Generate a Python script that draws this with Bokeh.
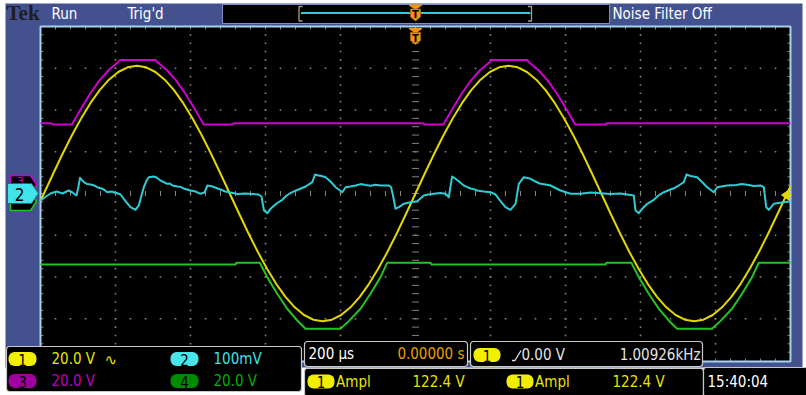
from bokeh.plotting import figure
from bokeh.models import Range1d
from bokeh.core.properties import value
from bokeh.embed import file_html
from bokeh.resources import INLINE

# Channel 1 (yellow) : time in microseconds, volts
ch1_t = [-1000.0, -990.8, -966.0, -941.3, -916.5, -891.7, -867.0, -842.2, -817.4, -792.6,
         -767.9, -743.1, -718.3, -693.6, -668.8, -644.0, -619.3, -594.5, -569.7, -544.9,
         -520.2, -495.4, -470.6, -445.9, -421.1, -396.3, -371.6, -346.8, -322.0, -297.2,
         -272.5, -247.7, -222.9, -198.2, -173.4, -148.6, -123.9, -99.1, -74.3, -49.5,
         -24.8, 0.0, 24.8, 49.5, 74.3, 99.1, 123.9, 148.6, 173.4, 198.2,
         222.9, 247.7, 272.5, 297.2, 322.0, 346.8, 371.6, 396.3, 421.1, 445.9,
         470.6, 495.4, 520.2, 544.9, 569.7, 594.5, 619.3, 644.0, 668.8, 693.6,
         718.3, 743.1, 767.9, 792.6, 817.4, 842.2, 867.0, 891.7, 916.5, 941.3,
         966.0, 990.8, 1000.0]
ch1_v = [-3.57, 0.0, 9.57, 18.91, 27.78, 35.97, 43.27, 49.51, 54.53, 58.21,
         60.45, 61.2, 60.45, 58.21, 54.53, 49.51, 43.27, 35.97, 27.78, 18.91,
         9.57, 0.0, -9.57, -18.91, -27.78, -35.97, -43.27, -49.51, -54.53, -58.21,
         -60.45, -61.2, -60.45, -58.21, -54.53, -49.51, -43.27, -35.97, -27.78, -18.91,
         -9.57, 0.0, 9.57, 18.91, 27.78, 35.97, 43.27, 49.51, 54.53, 58.21,
         60.45, 61.2, 60.45, 58.21, 54.53, 49.51, 43.27, 35.97, 27.78, 18.91,
         9.57, 0.0, -9.57, -18.91, -27.78, -35.97, -43.27, -49.51, -54.53, -58.21,
         -60.45, -61.2, -60.45, -58.21, -54.53, -49.51, -43.27, -35.97, -27.78, -18.91,
         -9.57, 0.0, 3.57]

# Channel 2 (cyan) : (microseconds, millivolts)
ch2_pts = [(-1000.0, -16.8), (-989.3, -9.6), (-973.3, 0.0), (-957.3, 4.8), (-941.3, 0.0),
           (-925.3, 7.2), (-914.7, 2.4), (-904.0, -4.8), (-898.7, 16.8), (-894.7, 37.6),
           (-884.5, 27.1), (-876.0, 22.8), (-866.7, 21.6), (-858.0, 19.6), (-848.8, 15.1),
           (-837.3, 12.0), (-830.0, 9.0), (-822.1, 3.1),
           (-810.7, 4.8), (-795.5, 0.7), (-786.7, -2.4), (-777.9, -12.7), (-768.0, -24.0),
           (-760.0, -32.8), (-746.7, -39.0), (-737.9, -28.7), (-730.7, -4.8), (-724.5, 15.1),
           (-717.3, 31.1), (-711.2, 39.0), (-697.9, 40.7), (-690.7, 38.3), (-680.0, 31.1),
           (-662.1, 23.2), (-655.0, 23.9), (-648.0, 19.2), (-635.5, 16.8), (-627.0, 16.0),
           (-618.7, 12.0), (-600.0, 7.2),
           (-586.7, 4.8), (-573.3, -0.7), (-562.7, 2.4), (-554.7, 19.2), (-541.3, 16.8),
           (-520.0, 9.6), (-507.0, 4.8), (-493.3, 2.4), (-475.0, -1.2), (-453.3, 0.0),
           (-418.7, -2.4), (-410.7, -7.2),
           (-404.0, -40.7), (-395.2, -47.2), (-386.4, -36.6), (-370.7, -24.0), (-355.2, -15.1),
           (-344.0, -4.8), (-328.5, 3.1), (-312.0, 9.6), (-293.1, 16.8), (-275.2, 27.1),
           (-268.0, 45.5), (-258.7, 43.1), (-250.7, 41.9), (-239.7, 39.0), (-226.7, 28.7),
           (-213.1, 15.1), (-195.2, 3.1), (-186.4, 15.1), (-173.3, 16.8), (-159.7, 19.2),
           (-146.0, 22.5), (-133.3, 20.4), (-120.0, 18.5), (-106.4, 20.8), (-93.3, 19.2),
           (-70.7, 19.2), (-65.3, 15.6),
           (-60.0, -4.8), (-53.3, -36.6), (-44.5, -32.8), (-31.2, -24.7), (-13.3, -20.8),
           (4.5, -18.4), (22.1, -4.8), (34.7, -2.4), (48.8, -0.7), (66.7, 1.2),
           (80.0, -0.7), (88.8, -8.9), (93.3, 16.8), (97.9, 40.7), (106.7, 35.2),
           (128.8, 19.2), (137.0, 16.0), (146.7, 12.0), (155.0, 10.5), (164.5, 7.2),
           (181.3, 4.8), (200.0, 3.1),
           (213.3, -2.4), (222.1, -12.7), (232.0, -24.0), (240.0, -32.8), (253.3, -39.0),
           (266.7, -24.7), (275.5, 23.2), (288.8, 39.0), (306.7, 35.2), (320.0, 28.7),
           (333.3, 23.2), (347.0, 21.5), (360.0, 19.2), (373.3, 13.2), (386.7, 7.2),
           (413.3, -0.7),
           (440.0, -0.7), (466.7, 2.4), (493.3, 0.7), (520.0, -1.2), (546.7, 0.0),
           (582.1, -4.8), (586.7, -40.7), (595.5, -47.2), (604.5, -36.6), (618.7, -24.0),
           (635.5, -15.1), (648.0, -4.8), (662.1, 3.1), (680.0, 9.6), (689.0, 12.5),
           (697.9, 16.8),
           (715.5, 27.1), (722.7, 45.5), (733.3, 41.9), (751.2, 39.0), (762.7, 28.7),
           (777.9, 15.1), (795.5, 3.1), (804.5, 15.1), (831.2, 19.2), (856.0, 20.4),
           (870.0, 22.8), (884.5, 20.8), (902.0, 18.2), (920.0, 19.2), (928.8, 15.1),
           (935.2, -32.8), (942.1, -39.0),
           (955.5, -24.7), (982.1, -20.8), (1000.0, -18.4)]

# Channel 3 (magenta) : (microseconds, volts)
ch3_pts = [(-1000.0, 29.84), (-973.3, 29.84), (-965.3, 29.22), (-916.5, 29.22), (-891.7, 36.93),
           (-867.0, 44.21), (-842.2, 50.49), (-817.4, 55.47), (-792.6, 59.16), (-788.0, 60.21),
           (-693.3, 60.21), (-688.7, 59.16), (-663.9, 55.47), (-639.1, 50.49), (-614.3, 44.21),
           (-589.6, 36.93), (-564.8, 29.22), (-488.0, 29.22), (-485.3, 29.84), (21.3, 29.84),
           (24.0, 29.22), (74.3, 29.22), (99.1, 36.93), (123.8, 44.21), (148.6, 50.49),
           (173.4, 55.47), (198.2, 59.16), (202.8, 60.21), (297.5, 60.21), (302.1, 59.16),
           (326.9, 55.47), (351.7, 50.49), (376.5, 44.21), (401.2, 36.93), (426.0, 29.22),
           (506.7, 29.22), (509.3, 29.84), (1000.0, 29.84)]

# Channel 4 (green) : (microseconds, volts)
ch4_pts = [(-1000.0, -30.18), (-479.9, -30.18), (-477.3, -29.36), (-415.2, -29.36), (-395.5, -36.26),
           (-368.8, -44.21), (-342.1, -51.40), (-315.5, -57.0), (-293.3, -60.98), (-200.0, -60.98),
           (-177.9, -57.34), (-146.7, -51.40), (-120.0, -44.21), (-93.3, -36.26), (-75.5, -29.36),
           (39.9, -29.36), (42.5, -30.18), (506.7, -30.18), (509.3, -29.36), (575.6, -29.36),
           (595.3, -36.26), (622.0, -44.21), (648.7, -51.40), (675.3, -57.0), (697.5, -60.98),
           (790.8, -60.98), (812.9, -57.34), (844.1, -51.40), (870.8, -44.21), (897.5, -36.26),
           (915.3, -29.36), (1000.0, -29.36)]

# readouts
ch_names = ["1", "2", "3", "4"]
ch_scale_text = ["20.0 V", "100mV", "20.0 V", "20.0 V"]
ch_scale = [20.0, 100.0, 20.0, 20.0]          # units per division (V, mV, V, V)
ch_ground_div = [0.0, 0.0, 0.19, -0.19]       # ground marker, divisions above centre
timebase_us = 200.0
timebase_text = "200 µs"
trig_pos_text = "0.00000 s"
trig_level_text = "0.00 V"
freq_text = "1.00926kHz"
meas_name = "Ampl"
meas_values = ["122.4 V", "122.4 V"]
clock_text = "15:40:04"
status_texts = ["Run", "Trig'd", "Noise Filter Off"]

# ---------------- layout / style ----------------
W, H = 806, 395
GX0, GX1, GY0, GY1 = 40.0, 790.0, 26.0, 360.0
NDX, NDY = 10, 8
DPX = (GX1 - GX0) / NDX
DPY = (GY1 - GY0) / NDY
CX = (GX0 + GX1) / 2
CY = (GY0 + GY1) / 2

BLUE = "#43518f"
GRID = "#85857a"
TR_COL = ["#e0d800", "#2ccdd4", "#d000d0", "#22c422"]
TX_COL = ["#e6e400", "#3ee0e6", "#bf00bf", "#00b000"]
PILL_COL = ["#f2ee00", "#48e6ea", "#a000a0", "#008c00"]
ORANGE = "#f0960a"
NARROW = "'Liberation Sans Narrow', 'DejaVu Sans Condensed', 'Liberation Sans', sans-serif"

p = figure(width=W, height=H, x_range=Range1d(0, W), y_range=Range1d(H, 0),
           output_backend="svg", toolbar_location=None, x_axis_type=None, y_axis_type=None,
           min_border=0, outline_line_color=None, title=None,
           background_fill_color="white", border_fill_color="white")

tx0 = (0 - CX) / DPX * timebase_us
tx1 = (W - CX) / DPX * timebase_us
p.extra_x_ranges = {"time": Range1d(tx0, tx1)}
yr = {}
for i in range(4):
    g = CY - ch_ground_div[i] * DPY
    s = ch_scale[i]
    yr["ch%d" % (i + 1)] = Range1d((g - H) / DPY * s, g / DPY * s)
p.extra_y_ranges = yr


def box(l, r, t, b, fill="black", line=None, lw=1.0, radius=0):
    kw = dict(left=[l], right=[r], top=[t], bottom=[b], fill_color=fill,
              line_color=line, line_width=lw)
    if radius:
        kw["border_radius"] = radius
    p.quad(**kw)


def txt(x, y, s, color, size=15, align="left", font=NARROW, style="normal"):
    p.text(x=[x], y=[y], text=[s], text_color=color, text_font=value(font),
           text_font_size="%gpx" % size, text_align=align, text_baseline="middle",
           text_font_style=style)


# frame
box(5, 802, 3, 367, fill=BLUE)
# graticule
box(GX0, GX1, GY0, GY1 + 1, fill="black")

dot_x, dot_y = [], []
for i in range(1, NDY):
    if i == NDY // 2:
        continue
    for j in range(1, NDX * 5):
        dot_x.append(GX0 + j * DPX / 5)
        dot_y.append(GY0 + i * DPY)
for j in range(1, NDX):
    if j == NDX // 2:
        continue
    for i in range(1, NDY * 5):
        dot_x.append(GX0 + j * DPX)
        dot_y.append(GY0 + i * DPY / 5)
p.rect(dot_x, dot_y, width=1.6, height=1.6, fill_color=GRID, line_color=None)

sx0, sy0, sx1, sy1 = [], [], [], []


def seg(a, b, c, d):
    sx0.append(a); sy0.append(b); sx1.append(c); sy1.append(d)


for j in range(1, NDX * 5):
    x = GX0 + j * DPX / 5
    seg(x, CY - 2.5, x, CY + 2.5)
    seg(x, GY0, x, GY0 + 3)
    seg(x, GY1 + 1, x, GY1 - 2)
for i in range(1, NDY * 5):
    y = GY0 + i * DPY / 5
    seg(CX - 3.5, y, CX + 3.5, y)
    seg(GX0, y, GX0 + 3, y)
    seg(GX1, y, GX1 - 3, y)
p.segment(sx0, sy0, sx1, sy1, line_color=GRID, line_width=1)

box(GX0, GX1, GY0, GY1 + 1, fill=None, line="#a4d2ec", lw=2)

# traces
p.line([t for t, _ in ch3_pts], [v for _, v in ch3_pts], x_range_name="time", y_range_name="ch3",
       line_color=TR_COL[2], line_width=2, line_join="round")
p.line([t for t, _ in ch4_pts], [v for _, v in ch4_pts], x_range_name="time", y_range_name="ch4",
       line_color=TR_COL[3], line_width=2, line_join="round")
p.line(ch1_t, ch1_v, x_range_name="time", y_range_name="ch1",
       line_color=TR_COL[0], line_width=2, line_join="round")
p.line([t for t, _ in ch2_pts], [v for _, v in ch2_pts], x_range_name="time", y_range_name="ch2",
       line_color=TR_COL[1], line_width=2, line_join="round")

# ---- top status bar ----
txt(6, 12, "Tek", "#1e1e1e", size=21, font="'Liberation Serif', serif", style="bold")
txt(51, 13.5, status_texts[0], "white", size=15)
txt(127, 13.5, status_texts[1], "white", size=15)
box(222, 609, 4, 23, fill="black", line="#7f8fc4", lw=1)
p.line([300.5, 530], [12.5, 12.5], line_color="#2ccdd4", line_width=2)
p.line([302, 298.5, 298.5, 302], [6, 6, 20.5, 20.5], line_color="#a89a8a", line_width=1.3)
p.line([527.5, 531, 531, 527.5], [6, 6, 20.5, 20.5], line_color="#a89a8a", line_width=1.3)
txt(612, 13.5, status_texts[2], "white", size=15)


def trig_marker(y0):
    p.patch([408.5, 421.5, 415], [y0, y0, y0 + 4.5], fill_color=ORANGE, line_color=ORANGE)
    p.patch([410, 420, 420, 415, 410], [y0 + 4, y0 + 4, y0 + 12, y0 + 16, y0 + 12],
            fill_color=ORANGE, line_color="#b06000", line_width=0.8)
    txt(415, y0 + 9.5, "T", "black", size=10, align="center",
        font="'DejaVu Sans', sans-serif", style="bold")


trig_marker(4.5)
trig_marker(28)

# ---- channel ground markers (left) ----
for k, (dy, col) in enumerate([(-9, TR_COL[2]), (8, TR_COL[3])]):
    yc = CY + dy
    p.patch([10, 30, 36, 30, 10], [yc - 9, yc - 9, yc, yc + 9, yc + 9],
            fill_color="black", line_color=col, line_width=1.5)
txt(20, CY - 12, ch_names[2], TR_COL[2], size=12, align="center")
p.patch([7, 31, 38, 31, 7], [CY - 10, CY - 10, CY, CY + 10, CY + 10],
        fill_color="#40e4ea", line_color="#1a6c70", line_width=1)
txt(19, CY + 0.5, ch_names[1], "black", size=17, align="center")

# trigger level marker (right)
p.patch([781, 789, 789], [CY + 1.5, CY - 4, CY + 7], fill_color=TR_COL[0], line_color=TR_COL[0])
p.line([788, 791], [CY + 1.5, CY + 1.5], line_color=TR_COL[0], line_width=2)

# ---- bottom readouts ----
box(6, 301, 346, 391, fill="black", line="#c8c8c8", lw=1.2, radius=3)
rows = [358.5, 380.5]
cols = [(8, 36, 51), (170, 198, 213)]
order = [(0, 0, 0), (1, 0, 1), (2, 1, 0), (3, 1, 1)]
for ch, r, c in order:
    yc = rows[r]
    l, rr, tx = cols[c]
    box(l, rr, yc - 7, yc + 7, fill=PILL_COL[ch], line=None, radius=6)
    txt((l + rr) / 2, yc + 0.5, ch_names[ch], "black", size=15, align="center")
    txt(tx, yc, ch_scale_text[ch], TX_COL[ch], size=15)
txt(104, rows[0] + 1, "∿", TX_COL[0], size=15, font="'DejaVu Sans', sans-serif")

# timebase box
box(304, 467, 341, 366, fill="black", line="#c8c8c8", lw=1.2, radius=3)
txt(308, 353.5, timebase_text, "white", size=15)
txt(464, 353.5, trig_pos_text, "#e8a000", size=15, align="right")
# trigger box
box(470, 702, 341, 366, fill="black", line="#c8c8c8", lw=1.2, radius=3)
box(473, 500, 347.5, 361.5, fill=PILL_COL[0], radius=6)
txt(486.5, 355, ch_names[0], "black", size=15, align="center")
p.line([511.5, 514.5, 520.5], [360, 360, 350], line_color="#e4e4e4", line_width=1.3)
txt(521, 354.5, trig_level_text, "#e4e4e4", size=15)
txt(700, 354.5, freq_text, "#e4e4e4", size=15, align="right")
# measurement box
box(304, 703, 368, 396, fill="black", line="#c8c8c8", lw=1.2, radius=3)
for mx in [307, 506]:
    box(mx, mx + 27, 374, 388, fill=PILL_COL[0], radius=6)
    txt(mx + 13.5, 381.5, ch_names[0], "black", size=15, align="center")
    txt(mx + 28.5, 381, meas_name, TX_COL[0], size=15)
txt(412, 381, meas_values[0], TX_COL[0], size=15)
txt(612, 381, meas_values[1], TX_COL[0], size=15)
# clock
box(703, 808, 367, 396, fill="black", line="#c8c8c8", lw=1.2, radius=3)
txt(707, 381.5, clock_text, "white", size=15)

open("out.html", "w").write(file_html(p, INLINE))
